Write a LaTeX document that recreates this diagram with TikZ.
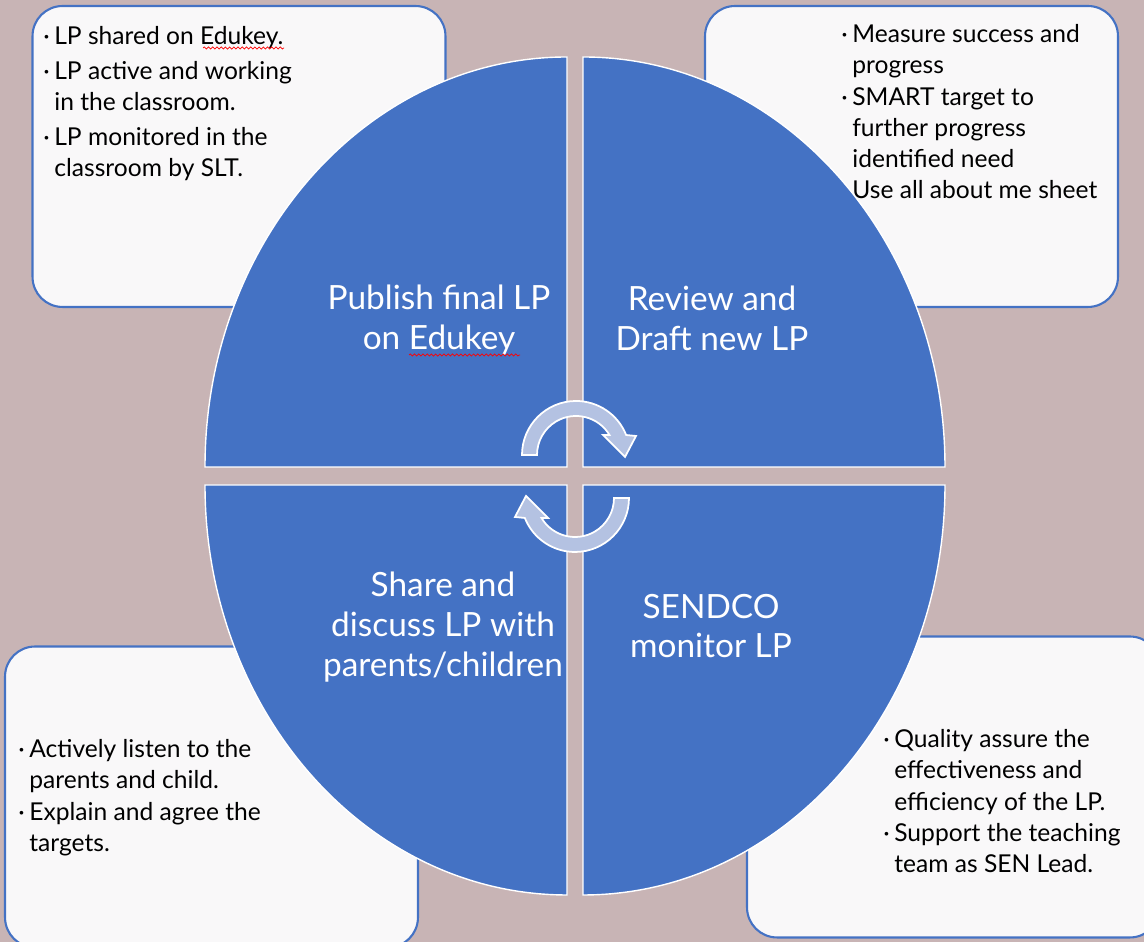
\documentclass[tikz,border=0pt]{standalone}
\usepackage{fontspec}
\setmainfont{Lato}
\usetikzlibrary{calc, decorations.pathmorphing}

\definecolor{mauve}{HTML}{C8B4B5}
\definecolor{cycleblue}{HTML}{4472C4}
\definecolor{notefill}{HTML}{F9F8F9}
\definecolor{arrowfill}{HTML}{B4C2E2}

\newcommand\bul{\makebox[0.22cm][l]{\textperiodcentered}}
\newcommand\ind{\hspace*{0.22cm}}

\tikzset{
	notebox/.style = {draw=cycleblue, line width=1.2pt, fill=notefill, rounded corners=0.6cm, minimum width=8.26cm, minimum height=6.02cm},
	notetext/.style = {anchor=north west, align=left, inner sep=0pt, font=\fontsize{14}{17.8}\selectfont},
	quarter/.style = {fill=cycleblue, draw=white, line width=0.8pt},
	stagetext/.style = {align=center, text=white, font=\fontsize{19}{22.7}\selectfont},
	turnarrow/.style = {fill=arrowfill, draw=white, line width=1pt},
	spellwave/.style = {draw=red, line width=0.4pt, decorate, decoration={snake, amplitude=0.6pt, segment length=2.4pt}}
}

\begin{document}
\begin{tikzpicture}[x=0.02cm, y=0.02cm]
	\fill[mauve] (0,0) rectangle (1144,942);
	\useasboundingbox (0,0) rectangle (1144,942);

	\node[notebox] (publishnote) at (239,785.5) {};
	\node[notebox] (reviewnote) at (911.5,785.5) {};
	\node[notebox] (sharenote) at (211.5,145) {};
	\node[notebox] (monitornote) at (953.5,155) {};

	\coordinate (tlcorner) at (567,475);
	\coordinate (trcorner) at (583,475);
	\coordinate (blcorner) at (567,457);
	\coordinate (brcorner) at (583,457);

	\path[quarter] (tlcorner) -- ++(-362,0) arc[start angle=180, end angle=90, x radius=362, y radius=410] -- cycle;
	\path[quarter] (trcorner) -- ++(0,410) arc[start angle=90, end angle=0, x radius=362, y radius=410] -- cycle;
	\path[quarter] (blcorner) -- ++(-362,0) arc[start angle=180, end angle=270, x radius=362, y radius=410] -- cycle;
	\path[quarter] (brcorner) -- ++(362,0) arc[start angle=0, end angle=-90, x radius=362, y radius=410] -- cycle;

	\node[stagetext] (publish) at (439,622) {Publish final LP\\on Edukey};
	\node[stagetext] (review) at (712,624) {Review and\\Draft new LP};
	\node[stagetext] (share) at (443,315) {Share and\\discuss LP with\\parents/children};
	\node[stagetext] (monitor) at (711,316) {SENDCO\\monitor LP};

	\coordinate (upturn) at (576,487);
	\coordinate (downturn) at (575,444);

	\path[turnarrow] ($(upturn)+(180:54)$) arc[start angle=180, end angle=21.7, radius=54] -- ($(upturn)+(60,19)$) -- ($(upturn)+(49,-2)$) -- ($(upturn)+(27,20)$) -- ($(upturn)+(30.9:39)$) arc[start angle=30.9, end angle=180, radius=39] -- cycle;
	\path[turnarrow] ($(downturn)+(0:54)$) arc[start angle=0, end angle=-158.3, radius=54] -- ($(downturn)+(-60,-19)$) -- ($(downturn)+(-49,2)$) -- ($(downturn)+(-27,-20)$) -- ($(downturn)+(-149.1:39)$) arc[start angle=-149.1, end angle=0, radius=39] -- cycle;

	\node[notetext] (publishlist) at (43,916) {\bul LP shared on Edukey.\\[2pt]\bul LP active and working\\\ind in the classroom.\\[2pt]\bul LP monitored in the\\\ind classroom by SLT.};
	\node[notetext] (reviewlist) at (841,918) {\bul Measure success and\\\ind progress\\\bul SMART target to\\\ind further progress\\\ind identified need\\\ind Use all about me sheet};
	\node[notetext] (sharelist) at (18,203) {\bul Actively listen to the\\\ind parents and child.\\\bul Explain and agree the\\\ind targets.};
	\node[notetext] (monitorlist) at (883,213) {\bul Quality assure the\\\ind effectiveness and\\\ind efficiency of the LP.\\\bul Support the teaching\\\ind team as SEN Lead.};

	\path[spellwave] (203,894) -- (284,894);
	\path[spellwave] (409,587) -- (520,587);
\end{tikzpicture}
\end{document}
